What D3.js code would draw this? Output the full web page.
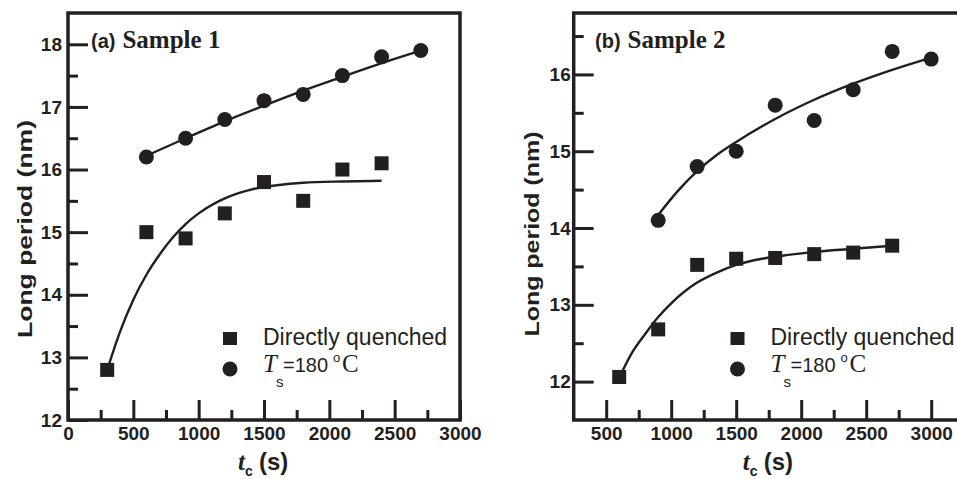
<!DOCTYPE html>
<html>
<head>
<meta charset="utf-8">
<script src="https://cdn.jsdelivr.net/npm/d3@7"></script>
<style>
  body { margin: 0; background: #fff; }
  svg { display: block; }
</style>
</head>
<body>
<svg id="chart" width="957" height="479"></svg>
<script>
// ---- data ----
// panel (a) Sample 1
const timesA_dq = [300, 600, 900, 1200, 1500, 1800, 2100, 2400];
const periodA_dq = [12.8, 15.0, 14.9, 15.3, 15.8, 15.5, 16.0, 16.1];
const timesA_ts = [600, 900, 1200, 1500, 1800, 2100, 2400, 2700];
const periodA_ts = [16.2, 16.5, 16.8, 17.1, 17.2, 17.5, 17.8, 17.9];
// fitted curves (traced)
const fitA_dq_x = [300, 400, 500, 600, 700, 800, 900, 1000, 1200, 1400, 1600, 1800, 2100, 2400];
const fitA_dq_y = [12.8, 13.42, 13.92, 14.32, 14.64, 14.91, 15.13, 15.3, 15.54, 15.68, 15.75, 15.79, 15.81, 15.82];
const fitA_ts_x = [600, 900, 1200, 1500, 1800, 2100, 2400, 2700];
const fitA_ts_y = [16.22, 16.5, 16.77, 17.02, 17.26, 17.48, 17.7, 17.9];

// panel (b) Sample 2
const timesB_dq = [600, 900, 1200, 1500, 1800, 2100, 2400, 2700];
const periodB_dq = [12.06, 12.68, 13.52, 13.6, 13.61, 13.66, 13.68, 13.77];
const timesB_ts = [900, 1200, 1500, 1800, 2100, 2400, 2700, 3000];
const periodB_ts = [14.1, 14.8, 15.0, 15.6, 15.4, 15.8, 16.3, 16.2];
const fitB_dq_x = [620, 700, 800, 900, 1000, 1100, 1200, 1350, 1500, 1700, 1900, 2100, 2400, 2700];
const fitB_dq_y = [12.12, 12.38, 12.62, 12.84, 13.02, 13.17, 13.29, 13.42, 13.52, 13.6, 13.65, 13.69, 13.73, 13.77];
const fitB_ts_x = [900, 1050, 1200, 1350, 1500, 1800, 2100, 2400, 2700, 3000];
const fitB_ts_y = [14.17, 14.48, 14.74, 14.95, 15.12, 15.42, 15.67, 15.88, 16.06, 16.22];

// ticks
const xTicksA = [0, 500, 1000, 1500, 2000, 2500, 3000];
const xMinorA = [250, 750, 1250, 1750, 2250, 2750];
const yTicksA = [12, 13, 14, 15, 16, 17, 18];
const yMinorA = [12.5, 13.5, 14.5, 15.5, 16.5, 17.5];
const xTicksB = [500, 1000, 1500, 2000, 2500, 3000];
const xMinorB = [750, 1250, 1750, 2250, 2750];
const yTicksB = [12, 13, 14, 15, 16];
const yMinorB = [12.5, 13.5, 14.5, 15.5, 16.5];

const ink = '#231f20';
const sans = '"Liberation Sans", Arial, sans-serif';
const serif = '"Liberation Serif", "Times New Roman", serif';

const svg = d3.select('#chart');

function drawPanel(p) {
    const x = d3.scaleLinear().domain(p.xDomain).range([p.left, p.right]);
    const y = d3.scaleLinear().domain(p.yDomain).range([p.bottom, p.top]);
    const g = svg.append('g');

    // axes with inward ticks
    const styleAxis = sel => {
        sel.select('.domain').remove();
        sel.selectAll('line').attr('stroke', ink).attr('stroke-width', 3);
        sel.selectAll('text')
            .attr('fill', ink)
            .attr('font-family', sans)
            .attr('font-weight', 'bold')
            .attr('font-size', 19);
    };
    g.append('g')
        .attr('transform', `translate(0,${p.bottom})`)
        .call(d3.axisBottom(x).tickValues(p.xTicks).tickSize(-20).tickPadding(7).tickFormat(d3.format('d')))
        .call(styleAxis);
    g.append('g')
        .attr('transform', `translate(0,${p.bottom})`)
        .call(d3.axisBottom(x).tickValues(p.xMinor).tickSize(-10).tickFormat(''))
        .call(styleAxis);
    g.append('g')
        .attr('transform', `translate(${p.left},0)`)
        .call(d3.axisLeft(y).tickValues(p.yTicks).tickSize(-20).tickPadding(p.yPad).tickFormat(d3.format('d')))
        .call(styleAxis);
    g.append('g')
        .attr('transform', `translate(${p.left},0)`)
        .call(d3.axisLeft(y).tickValues(p.yMinor).tickSize(-10).tickFormat(''))
        .call(styleAxis);

    // frame
    g.append('rect')
        .attr('x', p.left).attr('y', p.top)
        .attr('width', p.right - p.left).attr('height', p.bottom - p.top)
        .attr('fill', 'none').attr('stroke', ink).attr('stroke-width', 3.5);

    // fitted curves
    const line = d3.line().x(d => x(d[0])).y(d => y(d[1])).curve(d3.curveMonotoneX);
    [[p.fitDqX, p.fitDqY], [p.fitTsX, p.fitTsY]].forEach(([fx, fy]) => {
        g.append('path')
            .attr('d', line(fx.map((v, i) => [v, fy[i]])))
            .attr('fill', 'none').attr('stroke', ink).attr('stroke-width', 2.4);
    });

    // markers
    g.selectAll('rect.dq')
        .data(p.dqX.map((v, i) => [v, p.dqY[i]]))
        .enter().append('rect')
        .attr('class', 'dq')
        .attr('x', d => x(d[0]) - 7).attr('y', d => y(d[1]) - 7)
        .attr('width', 14).attr('height', 14)
        .attr('fill', ink);
    g.selectAll('circle.ts')
        .data(p.tsX.map((v, i) => [v, p.tsY[i]]))
        .enter().append('circle')
        .attr('class', 'ts')
        .attr('cx', d => x(d[0])).attr('cy', d => y(d[1]))
        .attr('r', 7.5)
        .attr('fill', ink);

    // panel title
    const title = g.append('text').attr('x', p.titleX).attr('y', 48).attr('fill', ink).attr('font-weight', 'bold');
    title.append('tspan').attr('font-family', sans).attr('font-size', 20).text(p.tag);
    title.append('tspan').attr('font-family', serif).attr('font-size', 25).attr('dx', 7).text(p.sample);

    // legend
    const lx = p.legendX;
    g.append('rect').attr('x', lx - 7).attr('y', 332).attr('width', 14).attr('height', 13).attr('fill', ink);
    g.append('circle').attr('cx', lx).attr('cy', 369).attr('r', 7.5).attr('fill', ink);
    g.append('text').attr('x', lx + 33).attr('y', 345)
        .attr('font-family', sans).attr('font-size', 23).attr('fill', ink)
        .text('Directly quenched');
    const t2 = g.append('text').attr('fill', ink);
    t2.append('tspan').attr('x', lx + 33).attr('y', 372).attr('font-family', serif)
        .attr('font-style', 'italic').attr('font-size', 25).text('T');
    t2.append('tspan').attr('x', lx + 46).attr('y', 387).attr('font-family', sans)
        .attr('font-size', 15).text('s');
    t2.append('tspan').attr('x', lx + 53).attr('y', 372).attr('font-family', sans)
        .attr('font-size', 20).text('=180');
    t2.append('tspan').attr('x', lx + 103).attr('y', 362).attr('font-family', sans)
        .attr('font-size', 13).text('o');
    t2.append('tspan').attr('x', lx + 112).attr('y', 372).attr('font-family', serif)
        .attr('font-size', 25).text('C');

    // y axis label
    g.append('text')
        .attr('transform', `translate(${p.yLabelX},${p.yLabelY}) rotate(-90)`)
        .attr('text-anchor', 'middle')
        .attr('font-family', sans).attr('font-weight', 'bold').attr('font-size', 20)
        .attr('textLength', p.yLabelLen).attr('lengthAdjust', 'spacingAndGlyphs')
        .attr('fill', ink)
        .text('Long period (nm)');

    // x axis label
    const cx = (p.left + p.right) / 2;
    const xl = g.append('text').attr('fill', ink).attr('font-weight', 'bold');
    xl.append('tspan').attr('x', cx - 26).attr('y', 470).attr('font-family', serif)
        .attr('font-style', 'italic').attr('font-size', 25).text('t');
    xl.append('tspan').attr('x', cx - 19).attr('y', 476).attr('font-family', sans)
        .attr('font-size', 14).text('c');
    xl.append('tspan').attr('x', cx - 5).attr('y', 470).attr('font-family', sans)
        .attr('font-size', 24).text('(s)');
}

drawPanel({
    left: 68, right: 460, top: 13, bottom: 420,
    xDomain: [0, 3000], yDomain: [12, 18.5],
    xTicks: xTicksA, xMinor: xMinorA, yTicks: yTicksA, yMinor: yMinorA, yPad: 6,
    dqX: timesA_dq, dqY: periodA_dq, tsX: timesA_ts, tsY: periodA_ts,
    fitDqX: fitA_dq_x, fitDqY: fitA_dq_y, fitTsX: fitA_ts_x, fitTsY: fitA_ts_y,
    tag: '(a)', sample: 'Sample 1', titleX: 91,
    legendX: 230,
    yLabelX: 32, yLabelY: 229, yLabelLen: 218
});

drawPanel({
    left: 573.7, right: 963.7, top: 13, bottom: 420,
    xDomain: [250, 3250], yDomain: [11.5, 16.8],
    xTicks: xTicksB, xMinor: xMinorB, yTicks: yTicksB, yMinor: yMinorB, yPad: 3,
    dqX: timesB_dq, dqY: periodB_dq, tsX: timesB_ts, tsY: periodB_ts,
    fitDqX: fitB_dq_x, fitDqY: fitB_dq_y, fitTsX: fitB_ts_x, fitTsY: fitB_ts_y,
    tag: '(b)', sample: 'Sample 2', titleX: 595,
    legendX: 737.5,
    yLabelX: 539, yLabelY: 234, yLabelLen: 205
});
</script>
</body>
</html>
